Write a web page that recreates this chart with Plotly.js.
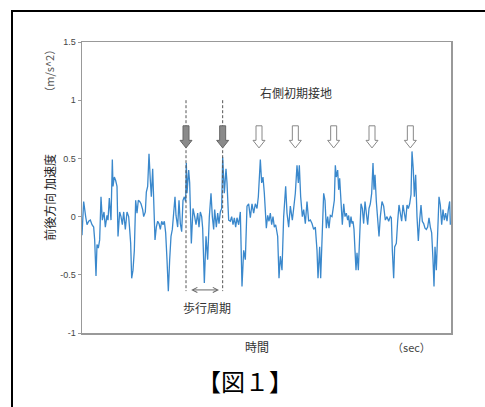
<!DOCTYPE html>
<html><head><meta charset="utf-8">
<script src="https://cdn.plot.ly/plotly-3.0.1.min.js"></script>
<style>
html,body{margin:0;padding:0;width:485px;height:407px;overflow:hidden;background:#fff;}
#chart{position:absolute;left:0;top:0;width:485px;height:407px;}
#frameTop{position:absolute;left:11px;top:10px;width:474px;height:2px;background:#000;pointer-events:none;}
#frameLeft{position:absolute;left:11px;top:10px;width:2px;height:397px;background:#000;pointer-events:none;}
#cover{position:absolute;left:478px;top:13px;width:7px;height:394px;background:#fff;pointer-events:none;}
</style></head><body>
<div id="chart"></div><div id="cover"></div><div id="frameTop"></div><div id="frameLeft"></div>
<script>
// time (sec) and fore-aft acceleration (m/s^2)
const timeSec = [0.00,0.05,0.11,0.15,0.20,0.25,0.30,0.35,0.38,0.42,0.45,0.49,0.53,0.57,0.61,0.66,0.70,0.75,0.78,0.82,0.87,0.91,0.93,0.97,1.01,1.05,1.08,1.13,1.17,1.21,1.25,1.30,1.35,1.40,1.43,1.46,1.49,1.53,1.57,1.61,1.65,1.69,1.73,1.77,1.82,1.85,1.90,1.93,1.97,2.01,2.05,2.08,2.12,2.15,2.19,2.23,2.27,2.31,2.35,2.39,2.43,2.47,2.51,2.55,2.59,2.63,2.67,2.71,2.75,2.79,2.82,2.87,2.91,2.95,2.99,3.03,3.07,3.11,3.13,
3.15,3.20,3.23,3.28,3.33,3.38,3.42,3.47,3.51,3.55,3.59,3.62,3.67,3.72,3.77,3.82,3.87,3.91,3.95,3.98,4.03,4.07,4.11,4.15,4.19,4.22,4.27,4.32,4.35,4.40,4.45,4.49,4.53,4.57,4.61,4.65,4.70,4.75,4.80,4.85,4.90,4.95,5.00,5.05,5.10,5.15,5.20,5.25,5.29,5.35,5.39,5.43,5.47,5.53,5.57,5.61,5.65,5.69,5.73,5.77,5.81,5.87,5.91,5.95,6.00,6.05,6.11,6.15,6.20,6.25,6.31,6.35,6.40,6.45,6.49,6.52,6.56,6.61,6.65,6.70,6.75,6.80,6.85,6.90,6.95,7.00,7.05,7.08,7.13,7.16,
7.20,7.25,7.29,7.33,7.37,7.41,7.45,7.50,7.53,7.57,7.60,7.63,7.67,7.70,7.73,7.77,7.81,7.85,7.89,7.93,7.97,8.00,8.03,8.07,8.10,8.13,8.16,8.19,8.22,8.25,8.29,8.33,8.37,8.41,8.45,8.49,8.53,8.57,8.61,8.65,8.69,8.73,8.76,8.79,8.83,8.87,8.91,8.95,9.00,9.05,9.10,9.15,9.20,9.25,9.28,9.31,9.35,9.38,9.43,9.47,9.51,9.55,9.59,9.63,9.67,9.71,9.75,9.79,9.83,9.87,9.90,9.94,9.97,10.01,10.05,10.09,10.13,10.17,10.21,10.25,10.29,10.33,10.37,10.41,10.45,10.49,10.53,10.56,10.59,10.63,10.67,10.71,10.75,10.79,10.83,10.87,10.91,10.95,10.99,11.03,11.05];
const accel = [-0.16,0.13,0.00,-0.07,-0.04,-0.03,-0.07,-0.09,-0.20,-0.51,-0.24,-0.27,-0.20,0.17,-0.03,0.04,-0.09,0.01,-0.03,0.16,-0.03,0.49,0.26,0.34,0.31,0.26,-0.17,0.04,0.00,-0.07,0.04,-0.11,0.04,0.00,-0.11,-0.23,-0.53,-0.46,-0.29,0.14,0.03,0.14,0.13,0.11,0.06,0.00,0.04,0.21,0.26,0.54,0.31,0.17,0.41,0.20,-0.20,-0.09,-0.04,-0.06,-0.11,-0.04,-0.07,-0.04,-0.14,-0.37,-0.64,-0.37,-0.17,-0.11,0.01,0.17,0.01,-0.09,0.14,-0.06,-0.13,0.14,0.17,0.13,0.46,
0.20,0.40,0.29,-0.23,0.07,0.00,-0.07,0.03,-0.09,0.04,0.00,-0.10,-0.57,-0.17,-0.37,0.00,0.20,0.00,-0.11,0.06,-0.09,0.03,-0.06,0.04,0.07,0.51,0.20,0.41,0.29,-0.03,-0.04,0.00,-0.07,-0.01,-0.09,-0.01,-0.07,0.04,-0.60,-0.29,-0.37,0.09,0.11,-0.01,0.11,0.03,0.11,0.07,0.17,0.49,0.29,0.34,0.20,-0.10,0.01,-0.04,0.03,-0.07,0.00,-0.09,-0.07,-0.17,-0.53,-0.34,-0.46,0.00,0.26,0.03,-0.09,0.09,-0.03,0.07,0.20,0.44,0.29,0.44,0.17,0.00,0.06,-0.06,0.13,-0.04,-0.03,-0.06,-0.11,-0.09,-0.29,-0.53,-0.26,-0.53,
-0.14,0.20,0.14,-0.10,0.00,-0.10,0.01,0.00,0.06,0.14,0.44,0.34,0.40,0.23,0.33,0.09,-0.07,0.11,0.00,0.03,-0.03,0.01,-0.09,0.00,-0.06,-0.04,-0.11,-0.29,-0.46,-0.31,-0.46,-0.17,0.11,0.07,-0.06,0.13,0.01,-0.07,0.07,0.11,0.20,0.46,0.23,0.36,0.13,-0.03,-0.17,0.00,0.13,0.09,-0.03,0.00,-0.04,0.00,-0.01,-0.29,-0.53,-0.26,-0.23,-0.04,0.10,0.03,-0.04,0.10,0.03,-0.04,0.10,0.07,0.11,0.19,0.56,0.40,0.17,0.36,0.00,-0.21,-0.03,0.10,-0.04,-0.06,-0.10,-0.11,-0.09,-0.01,-0.09,-0.14,-0.37,-0.60,-0.26,-0.46,-0.14,0.17,0.10,-0.07,0.06,-0.03,0.03,-0.04,0.06,0.13,-0.07];
const contactsFilled = [3.12, 4.22];
const contactsOpen = [5.31, 6.40, 7.55, 8.70, 9.85];
const yTickVals = [-1, -0.5, 0, 0.5, 1, 1.5];
const yTickText = ['-1', '-0.5', '0', '0.5', '1', '1.5'];

const JP = '"Noto Sans CJK JP", "Noto Sans", sans-serif';
function arrowPath(x) {
  const sw = 0.09, hw = 0.18, top = 0.78, base = 0.655, tip = 0.59;
  return `M${x-sw},${top} L${x+sw},${top} L${x+sw},${base} L${x+hw},${base} L${x},${tip} L${x-hw},${base} L${x-sw},${base} Z`;
}
const shapes = [];
contactsFilled.forEach(x => {
  shapes.push({type:'line', xref:'x', yref:'y', x0:x, x1:x, y0:1.0, y1:-0.64, line:{color:'#555', width:1, dash:'3px,2px'}});
  shapes.push({type:'path', xref:'x', yref:'y', path:arrowPath(x), fillcolor:'#8a8a8a', line:{color:'#666', width:1}});
});
contactsOpen.forEach(x => {
  shapes.push({type:'path', xref:'x', yref:'y', path:arrowPath(x), fillcolor:'#fff', line:{color:'#888', width:1}});
});

const C = {xanchor:'center', yanchor:'middle', showarrow:false};
const annotations = [
  Object.assign({x:6.42, y:1.07, xref:'x', yref:'y', text:'右側初期接地', font:{family:JP, size:12, color:'#333'}}, C),
  Object.assign({x:3.75, y:-0.785, xref:'x', yref:'y', text:'歩行周期', font:{family:JP, size:12, color:'#333'}}, C),
  {x:contactsFilled[1]-0.11, y:-0.63, xref:'x', yref:'y', ax:contactsFilled[0]+0.11, ay:-0.63, axref:'x', ayref:'y',
   text:'', showarrow:true, arrowhead:5, startarrowhead:5, arrowside:'end+start', arrowsize:1, arrowwidth:1, arrowcolor:'#666'},
  Object.assign({x:5.25, y:-0.047, xref:'x', yref:'paper', text:'時間', font:{family:JP, size:12, color:'#333'}}, C),
  Object.assign({x:9.87, y:-0.047, xref:'x', yref:'paper', text:'（sec）', font:{family:JP, size:11, color:'#444'}}, C),
  Object.assign({x:-0.088, y:0.467, xref:'paper', yref:'paper', text:'前後方向 加速度', textangle:-90, font:{family:JP, size:12, color:'#222'}}, C),
  Object.assign({x:-0.088, y:0.90, xref:'paper', yref:'paper', text:'（m/s^2）', textangle:-90, font:{family:JP, size:11, color:'#555'}}, C),
  Object.assign({x:0.4425, y:-0.164, xref:'paper', yref:'paper', text:'【図１】', font:{family:JP, size:24, color:'#000'}}, C)
];

const trace = {x:timeSec, y:accel, type:'scatter', mode:'lines', line:{color:'#3A88CC', width:1.3}, hoverinfo:'skip'};
const layout = {
  width:485, height:407,
  margin:{l:82, r:34, t:42, b:74},
  paper_bgcolor:'rgba(0,0,0,0)', plot_bgcolor:'#fff',
  showlegend:false,
  xaxis:{range:[0, 11.07], showticklabels:false, ticks:'', showgrid:false, zeroline:false,
         showline:true, mirror:true, linecolor:'#999', linewidth:1.5},
  yaxis:{range:[-1, 1.5], tickvals:yTickVals, ticktext:yTickText, ticks:'outside', ticklen:3, tickcolor:'#999',
         showgrid:false, zeroline:false, showline:true, mirror:true, linecolor:'#999', linewidth:1.5,
         tickfont:{family:'"Liberation Sans", Arial, sans-serif', size:9, color:'#444'}},
  shapes:shapes, annotations:annotations
};
Plotly.newPlot('chart', [trace], layout, {staticPlot:true, displayModeBar:false});
</script>
</body></html>
